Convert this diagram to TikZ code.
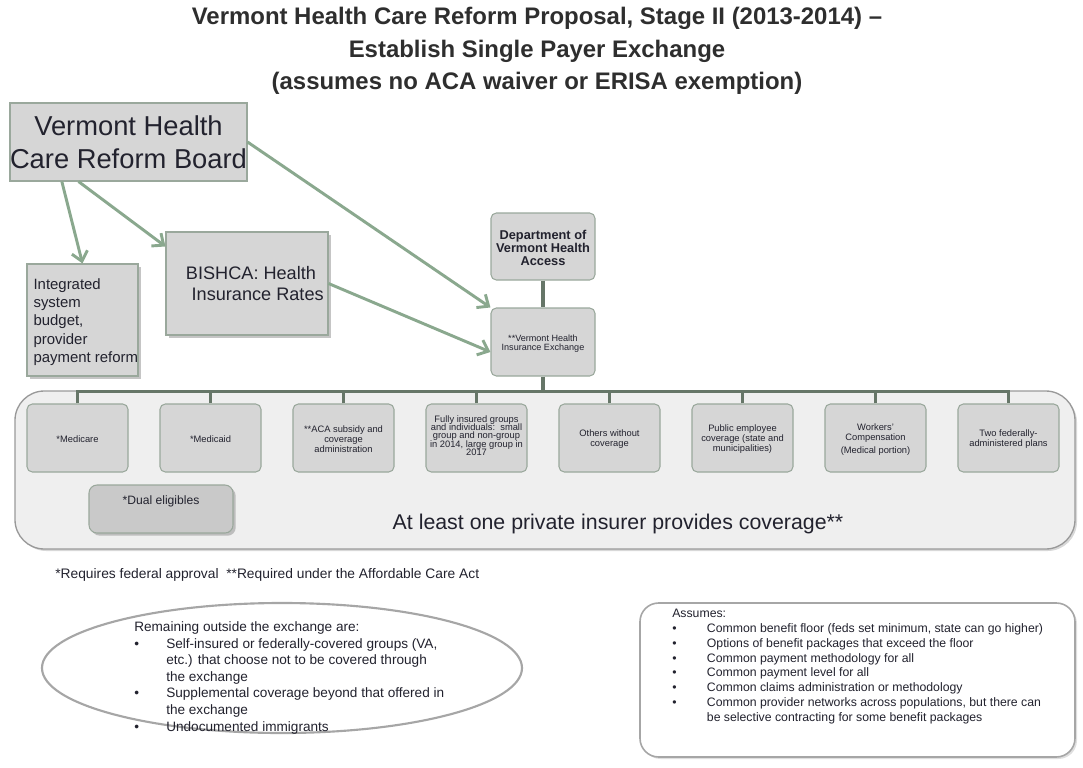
\documentclass[tikz,border=0pt]{standalone}
\usepackage{fontspec}
\setmainfont{Liberation Sans}
\usepackage{xcolor}
\usepackage{tikz}
\usetikzlibrary{arrows.meta, positioning, calc, fit, shadows, shapes.geometric}
\definecolor{vtink}{HTML}{22222E}
\definecolor{vttitle}{HTML}{2E2E2E}
\definecolor{vtarrow}{HTML}{8AA88E}
\definecolor{vtline}{HTML}{667668}
\definecolor{vtborder}{HTML}{9AA89C}
\definecolor{vtbox}{HTML}{D6D6D6}
\definecolor{vtpanel}{HTML}{EFEFEF}
\definecolor{vtdual}{HTML}{C9C9C9}
\newcommand{\tightlines}{\lineskiplimit-4pt\lineskip0pt\relax}

\tikzset{
  plainbox/.style={draw=vtborder, line width=0.8pt, fill=vtbox, inner sep=0pt},
  shadebox/.style={plainbox, drop shadow={shadow xshift=2pt, shadow yshift=-2pt, fill=black!45}},
  groupbox/.style={plainbox, rounded corners=4pt},
  boxtext/.style={inner sep=0pt, text=vtink, align=center},
  grouptext/.style={boxtext, font=\fontsize{7}{7.5}\selectfont, yshift=-1.15pt},
  feed/.style={vtarrow, line width=2.2pt, -{Straight Barb[length=7pt, width=12pt]}},
  tree/.style={vtline, line width=2.4pt},
}

\begin{document}
\begin{tikzpicture}[x=0.75pt, y=-0.75pt]
    \useasboundingbox (0,0) rectangle (1083,768);

    % Title
    \node[font=\fontsize{17.95}{24.2}\selectfont\bfseries, text=vttitle, align=center] (title) at (537,51)
        {Vermont Health Care Reform Proposal, Stage II (2013-2014) –\\Establish Single Payer Exchange\\(assumes no ACA waiver or ERISA exemption)};

    % Board and the offices under it
    \node[plainbox, fit={(10,103) (247,181)}] (board) {};
    \node[boxtext, font=\fontsize{20.5}{24.75}\selectfont] (boardtext) at (board) {Vermont Health\\Care Reform Board};
    \node[shadebox, fit={(27,264) (138,376)}] (budget) {};
    \node[boxtext, align=left, font=\fontsize{11.2}{13.7}\selectfont, xshift=2.5pt, yshift=-1.5pt] (budgettext) at (budget)
        {Integrated\\system\\budget,\\provider\\payment reform};
    \node[shadebox, fit={(166,232) (328,335)}] (bishca) {};
    \node[boxtext, font=\fontsize{13.6}{16.3}\selectfont, xshift=3pt] (bishcatext) at (bishca)
        {BISHCA: Health\\\hspace*{10pt}Insurance Rates};

    % Department and exchange
    \node[plainbox, rounded corners=4pt, fit={(491,213) (595,280)}] (dvha) {};
    \node[boxtext, font=\fontsize{9.6}{9.75}\selectfont\bfseries, yshift=-0.75pt] (dvhatext) at (dvha)
        {Department of\\Vermont Health\\Access};
    \node[plainbox, rounded corners=4pt, fit={(491,308) (595,376)}] (exch) {};
    \node[boxtext, font=\fontsize{6.8}{6.8}\selectfont\tightlines, yshift=-1.5pt] (exchtext) at (exch)
        {**Vermont Health\\Insurance Exchange};

    % Panel of covered groups
    \node[plainbox, fill=vtpanel, draw=black!40, line width=1pt, rounded corners=22pt, fit={(15,391) (1075,549)},
        drop shadow={shadow xshift=1.5pt, shadow yshift=-1.5pt, fill=black!30}] (panel) {};
    \node[font=\fontsize{16}{18}\selectfont, text=vtink] (private) at (618,524) {At least one private insurer provides coverage**};

    \node[groupbox, fit={(27,404) (128,472)}] (medicare) {};
    \node[grouptext] (medicaretext) at (medicare) {*Medicare};
    \node[groupbox, fit={(160,404) (261,472)}] (medicaid) {};
    \node[grouptext] (medicaidtext) at (medicaid) {*Medicaid};
    \node[groupbox, fit={(293,404) (394,472)}] (aca) {};
    \node[grouptext] (acatext) at (aca) {**ACA subsidy and\\coverage\\administration};
    \node[groupbox, fit={(426,404) (527,472)}] (fully) {};
    \node[grouptext, font=\fontsize{7}{6.2}\selectfont\tightlines, yshift=3pt] (fullytext) at (fully)
        {Fully insured groups\\and individuals:\ \ small\\group and non-group\\in 2014, large group in\\2017};
    \node[groupbox, fit={(559,404) (660,472)}] (others) {};
    \node[grouptext] (otherstext) at (others) {Others without\\coverage};
    \node[groupbox, fit={(692,404) (793,472)}] (public) {};
    \node[grouptext] (publictext) at (public) {Public employee\\coverage (state and\\municipalities)};
    \node[groupbox, fit={(825,404) (926,472)}] (workers) {};
    \node[grouptext] (workerstext) at (workers) {Workers'\\Compensation\\[2.5pt](Medical portion)};
    \node[groupbox, fit={(958,404) (1059,472)}] (federal) {};
    \node[grouptext] (federaltext) at (federal) {Two federally-\\administered plans};

    \node[shadebox, fill=vtdual, rounded corners=6pt, fit={(89,485) (233,533)}] (dual) {};
    \node[below=8pt of dual.north, inner sep=0pt, font=\fontsize{9.1}{10}\selectfont, text=vtink] (dualtext) {*Dual eligibles};

    % Org lines
    \draw[tree] (dvha.south) -- (exch.north);
    \draw[tree] (exch.south) -- ++(0,15) coordinate (bus);
    \draw[tree] (medicare.north) |- (bus) -- (federal.north |- bus) -- (federal.north);
    \draw[tree] (medicaid.north) -- (medicaid.north |- bus);
    \draw[tree] (aca.north) -- (aca.north |- bus);
    \draw[tree] (fully.north) -- (fully.north |- bus);
    \draw[tree] (others.north) -- (others.north |- bus);
    \draw[tree] (public.north) -- (public.north |- bus);
    \draw[tree] (workers.north) -- (workers.north |- bus);

    % Arrows from the board
    \draw[feed] ($(board.south west)!0.22!(board.south east)$) -- (budget.north);
    \draw[feed] ($(board.south west)!0.29!(board.south east)$) -- ($(bishca.north west)+(0,15)$);
    \draw[feed] (board.east) -- (exch.north west);
    \draw[feed] (bishca.east) -- ($(exch.west)+(0,10)$);

    % Footnote
    \node[anchor=west, inner sep=0pt, font=\fontsize{10.35}{12}\selectfont, text=vtink] (notes) at (55,575)
        {*Requires federal approval\ \ **Required under the Affordable Care Act};

    % Outside the exchange
    \node[ellipse, draw=black!35, line width=1.6pt, fill=white, minimum width=360pt, minimum height=97.5pt] (outside) at (282,668) {};
    \node[anchor=north west, inner sep=0pt, align=left, font=\fontsize{10.2}{12.4}\selectfont, text=vtink] (outlist) at (134,620)
        {\begin{tabular}{@{}p{24pt}@{}l@{}}
            \multicolumn{2}{@{}l@{}}{Remaining outside the exchange are:}\\
            • & Self-insured or federally-covered groups (VA,\\
              & etc.) that choose not to be covered through\\
              & the exchange\\
            • & Supplemental coverage beyond that offered in\\
              & the exchange\\
            • & Undocumented immigrants
        \end{tabular}};

    % Assumptions
    \node[plainbox, fill=white, draw=black!35, line width=1.2pt, rounded corners=14pt, fit={(640,603) (1075,757)},
        drop shadow={shadow xshift=1.5pt, shadow yshift=-1.5pt, fill=black!25}] (assumes) {};
    \node[anchor=north west, inner sep=0pt, align=left, font=\fontsize{9.2}{11.1}\selectfont, text=vtink] (assumelist) at (672,607)
        {\begin{tabular}{@{}p{26pt}@{}l@{}}
            \multicolumn{2}{@{}l@{}}{Assumes:}\\
            • & Common benefit floor (feds set minimum, state can go higher)\\
            • & Options of benefit packages that exceed the floor\\
            • & Common payment methodology for all\\
            • & Common payment level for all\\
            • & Common claims administration or methodology\\
            • & Common provider networks across populations, but there can\\
              & be selective contracting for some benefit packages
        \end{tabular}};
\end{tikzpicture}
\end{document}
